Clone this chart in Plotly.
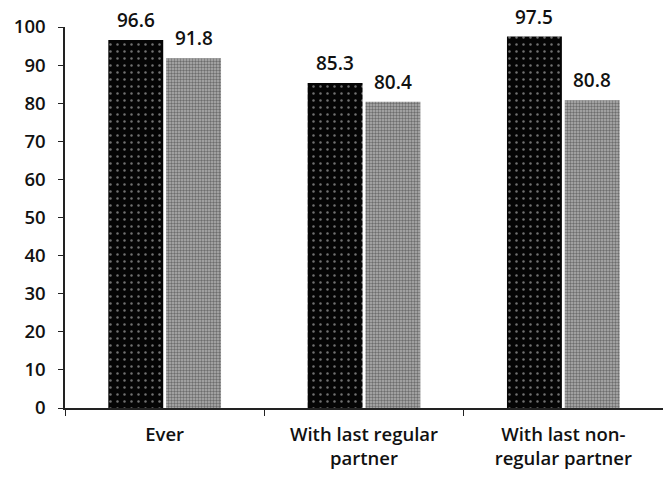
import plotly.graph_objects as go

categories = ["Ever", "With last regular<br>partner", "With last non-<br>regular partner"]
series_a = [96.6, 85.3, 97.5]
series_b = [91.8, 80.4, 80.8]
y_ticks = [0, 10, 20, 30, 40, 50, 60, 70, 80, 90, 100]

FONT = "'Open Sans', Lato, sans-serif"

fig = go.Figure()
fig.add_trace(go.Bar(
    x=categories, y=series_a, name="A",
    marker=dict(color="#050505", line=dict(width=0),
                pattern=dict(shape=".", fgcolor="#dddddd", bgcolor="#050505",
                             size=7, solidity=0.1)),
))
fig.add_trace(go.Bar(
    x=categories, y=series_b, name="B",
    marker=dict(color="#9a9a9a", line=dict(width=0),
                pattern=dict(shape=".", fgcolor="#2a2a2a", bgcolor="#b0b0b0",
                             size=3, solidity=0.5)),
))

# value labels above each bar
for vals, shift in ((series_a, -29), (series_b, 29)):
    for c, v in zip(categories, vals):
        fig.add_annotation(x=c, y=v, text=f"{v:.1f}", showarrow=False,
                           xshift=shift, yshift=20,
                           font=dict(family=FONT, size=19, color="#111", weight=600))

fig.update_layout(
    width=663, height=485,
    margin=dict(l=65, r=0, t=27, b=77),
    paper_bgcolor="white", plot_bgcolor="white",
    barmode="group", bargap=0.42, bargroupgap=0.05,
    showlegend=False,
    font=dict(family=FONT, size=18, color="#111", weight=600),
)
fig.update_xaxes(
    showline=True, linecolor="#222", linewidth=1.5,
    ticks="outside", tickson="boundaries", ticklen=6, tickcolor="#222",
    showgrid=False, tickfont=dict(size=18.5, weight=600), ticklabelstandoff=9,
)
fig.update_yaxes(
    range=[0, 100], tickvals=y_ticks, showline=True, linecolor="#222", linewidth=1.5,
    ticks="outside", ticklen=5, tickcolor="#222", showgrid=False, zeroline=False,
    tickfont=dict(size=18.5, weight=600), ticklabelstandoff=9,
)

fig.write_html("out.html")
